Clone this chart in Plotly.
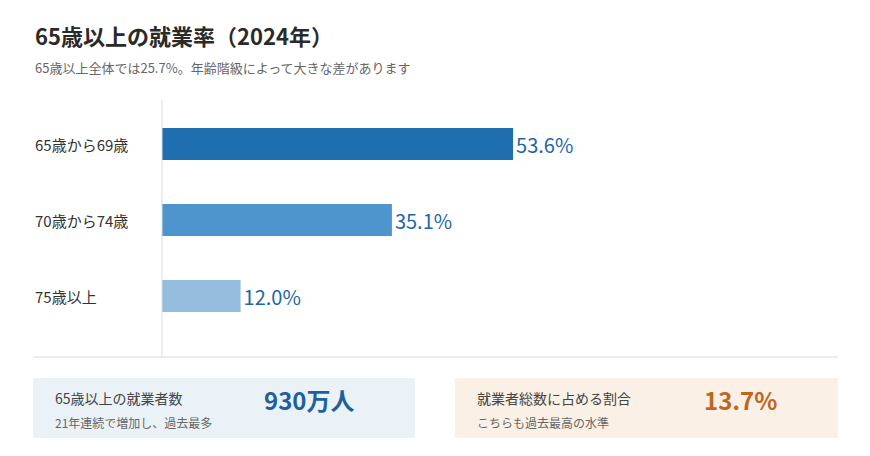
import plotly.graph_objects as go

# ---- data ----
CATEGORIES = ["65歳から69歳", "70歳から74歳", "75歳以上"]
RATES = [53.6, 35.1, 12.0]
BAR_COLORS = ["#1f6eb0", "#4d95cc", "#93bcdd"]

TITLE = "65歳以上の就業率（2024年）"
SUBTITLE = "65歳以上全体では25.7%。年齢階級によって大きな差があります"

CARD_LEFT = ("65歳以上の就業者数", "21年連続で増加し、過去最多", "930万人")
CARD_RIGHT = ("就業者総数に占める割合", "こちらも過去最高の水準", "13.7%")

W, H = 870, 456
OFF = 8  # page body margin
FONT = "Noto Sans CJK JP"


def px(x):
    return (x - OFF) / W


def py(y):
    return 1 - (y - OFF) / H


fig = go.Figure()

fig.add_trace(go.Bar(
    y=CATEGORIES, x=RATES, orientation="h",
    marker=dict(color=BAR_COLORS, line=dict(width=0)),
    width=0.42,
    text=[f"{v:.1f}%" for v in RATES],
    textposition="outside",
    textfont=dict(size=20, color="#1f66a6", family=FONT),
    cliponaxis=False,
    hoverinfo="skip",
))

annotations = []
for c in CATEGORIES:
    annotations.append(dict(
        x=px(33), xref="paper", y=c, yref="y", text=c, showarrow=False,
        xanchor="left", yanchor="middle",
        font=dict(size=15, color="#333333", family=FONT)))

annotations += [
    dict(x=px(33), y=py(35), xref="paper", yref="paper", text=f"<b>{TITLE}</b>",
         showarrow=False, xanchor="left", yanchor="middle",
         font=dict(size=22, color="#2a2a2a", family=FONT)),
    dict(x=px(33), y=py(68), xref="paper", yref="paper", text=SUBTITLE,
         showarrow=False, xanchor="left", yanchor="middle",
         font=dict(size=13, color="#666666", family=FONT)),
]

shapes = [
    dict(type="line", xref="paper", yref="paper", x0=px(162), x1=px(162),
         y0=py(100), y1=py(357), line=dict(color="#d5dde3", width=1)),
    dict(type="line", xref="paper", yref="paper", x0=px(33), x1=px(838),
         y0=py(357), y1=py(357), line=dict(color="#d5dde3", width=1)),
    dict(type="rect", xref="paper", yref="paper", x0=px(33), x1=px(415),
         y0=py(438), y1=py(378), fillcolor="#ebf2f7", line=dict(width=0), layer="below"),
    dict(type="rect", xref="paper", yref="paper", x0=px(455), x1=px(838),
         y0=py(438), y1=py(378), fillcolor="#fbf0e5", line=dict(width=0), layer="below"),
]


def card(x0, big_x, info, color):
    label, note, value = info
    return [
        dict(x=px(x0), y=py(398), xref="paper", yref="paper", text=label,
             showarrow=False, xanchor="left", yanchor="middle",
             font=dict(size=14, color="#444444", family=FONT)),
        dict(x=px(x0), y=py(422), xref="paper", yref="paper", text=note,
             showarrow=False, xanchor="left", yanchor="middle",
             font=dict(size=12, color="#666666", family=FONT)),
        dict(x=px(big_x), y=py(399), xref="paper", yref="paper", text=f"<b>{value}</b>",
             showarrow=False, xanchor="left", yanchor="middle",
             font=dict(size=24, color=color, family=FONT)),
    ]


annotations += card(53, 262, CARD_LEFT, "#1f5f9c")
annotations += card(475, 702, CARD_RIGHT, "#c0661f")

fig.update_layout(
    width=W, height=H,
    margin=dict(l=0, r=0, t=0, b=0),
    paper_bgcolor="white", plot_bgcolor="white",
    showlegend=False,
    font=dict(family=FONT),
    xaxis=dict(domain=[px(162), px(838)], range=[0, 676 / 6.55], visible=False, fixedrange=True),
    yaxis=dict(domain=[py(334), py(106)], range=[2.5, -0.5], visible=False, fixedrange=True),
    annotations=annotations,
    shapes=shapes,
)

fig.write_html("out.html")
